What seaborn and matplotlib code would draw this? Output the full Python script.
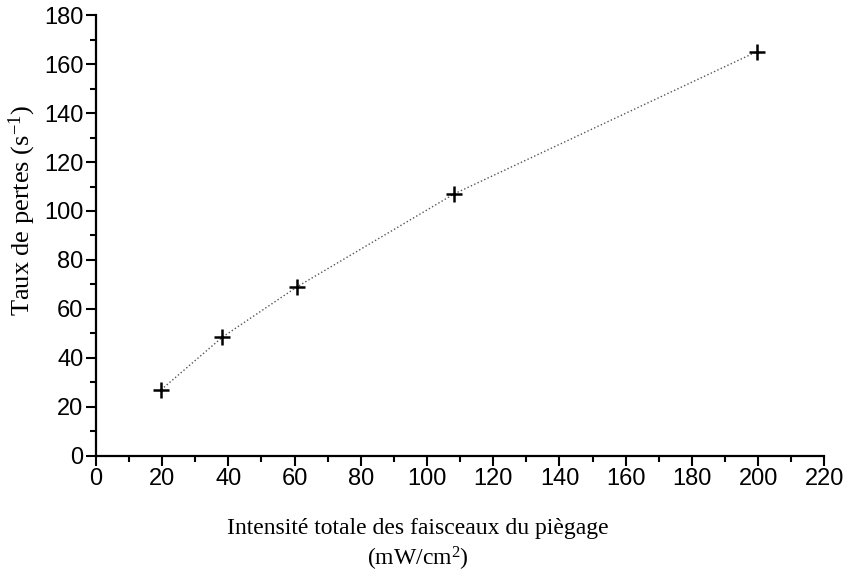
import matplotlib
matplotlib.use("Agg")
import matplotlib.pyplot as plt
import seaborn as sns
from matplotlib.ticker import MultipleLocator

# Data
intensity = [19.7, 38.2, 60.7, 108.2, 199.5]
loss_rate = [27, 48.5, 69, 107, 165]

x_label = "Intensité totale des faisceaux du piègage\n(mW/cm$^{\\mathrm{2}}$)"
y_label = "Taux de pertes (s$^{\\mathrm{-1}}$)"

sns.set_style("ticks")
plt.rcParams['font.family'] = ['Liberation Sans', 'DejaVu Sans']
plt.rcParams['mathtext.fontset'] = 'custom'
plt.rcParams['mathtext.rm'] = 'Liberation Serif'
plt.rcParams['mathtext.it'] = 'Liberation Serif:italic'

fig = plt.figure(figsize=(8.49, 5.8), dpi=100)
ax = fig.add_axes([0.113, 0.214, 0.858, 0.760])

sns.lineplot(x=intensity, y=loss_rate, ax=ax, color='#555555',
             linestyle=':', linewidth=1.0)
sns.lineplot(x=intensity, y=loss_rate, ax=ax, linestyle='none',
             marker='+', markersize=12, markeredgewidth=1.8,
             markeredgecolor='black', color='black')

ax.set_xlim(0, 220)
ax.set_ylim(0, 180)
ax.xaxis.set_major_locator(MultipleLocator(20))
ax.xaxis.set_minor_locator(MultipleLocator(10))
ax.yaxis.set_major_locator(MultipleLocator(20))
ax.yaxis.set_minor_locator(MultipleLocator(10))
ax.tick_params(which='major', length=7, width=1.5, labelsize=17,
               color='black', labelcolor='black', pad=2)
ax.tick_params(which='minor', length=4, width=1.5, color='black')
sns.despine(ax=ax)
for side in ['left', 'bottom']:
    ax.spines[side].set_linewidth(1.6)
    ax.spines[side].set_color('black')

ax.set_xlabel(x_label, fontsize=17, fontfamily='Liberation Serif',
              linespacing=1.3, color='black')
ax.set_ylabel(y_label, fontsize=19, fontfamily='Liberation Serif',
              color='black')
ax.xaxis.set_label_coords(0.442, -0.14)
ax.yaxis.set_label_coords(-0.08, 0.556)

fig.savefig('out.png', dpi=100)
